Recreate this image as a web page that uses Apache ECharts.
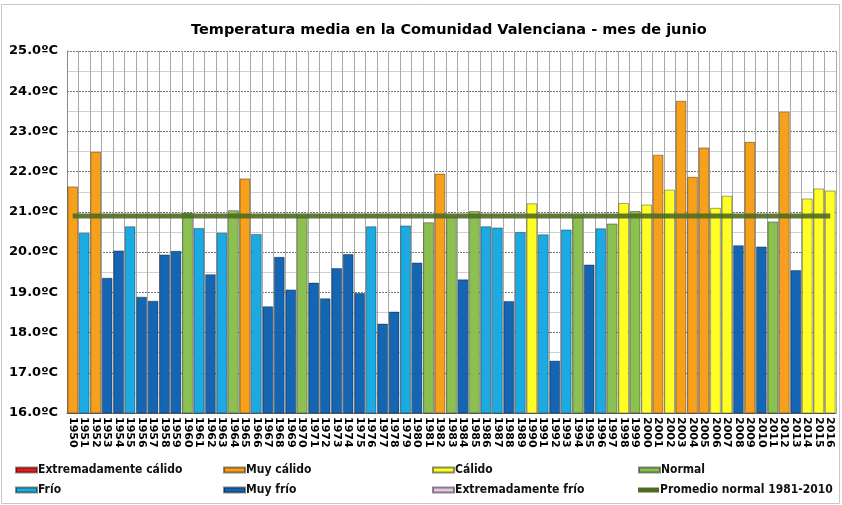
<!DOCTYPE html>
<html>
<head>
<meta charset="utf-8">
<script src="https://cdn.jsdelivr.net/npm/echarts@6/dist/echarts.min.js"></script>
<style>
html,body{margin:0;padding:0;background:#fff;}
#chart{width:842px;height:505px;}
</style>
</head>
<body>
<div id="chart"></div>
<script>
const years = [];
for (let y = 1950; y <= 2016; y++) years.push(String(y));

const temps = [
  21.63, 20.48, 22.49, 19.36, 20.04, 20.64, 18.89, 18.79, 19.94, 20.03,
  20.98, 20.60, 19.45, 20.48, 21.04, 21.83, 20.45, 18.65, 19.88, 19.07,
  20.88, 19.24, 18.85, 19.60, 19.95, 18.98, 20.64, 18.22, 18.52, 20.66,
  19.74, 20.74, 21.95, 20.88, 19.32, 21.02, 20.64, 20.61, 18.78, 20.50,
  21.21, 20.44, 17.30, 20.56, 20.88, 19.69, 20.59, 20.71, 21.22, 21.02,
  21.18, 22.42, 21.55, 23.76, 21.87, 22.60, 21.10, 21.40, 20.17, 22.74,
  20.14, 20.76, 23.49, 19.55, 21.33, 21.58, 21.53
];

const clases = [
  'MC','F','MC','MF','MF','F','MF','MF','MF','MF',
  'N','F','MF','F','N','MC','F','MF','MF','MF',
  'N','MF','MF','MF','MF','MF','F','MF','MF','F',
  'MF','N','MC','N','MF','N','F','F','MF','F',
  'C','F','MF','F','N','MF','F','N','C','N',
  'C','MC','C','MC','MC','MC','C','C','MF','MC',
  'MF','N','MC','MF','C','C','C'
];

const promedioNormal = 20.9;

const claseCodes = ['EC','MC','C','N','F','MF','EF'];
const claseNames = ['Extremadamente cálido','Muy cálido','Cálido','Normal','Frío','Muy frío','Extremadamente frío'];
const claseColors = ['#E31B1B','#F7A01B','#FFFF26','#8CC152','#1BAAE2','#1565B5','#E8C6E8'];
const lineName = 'Promedio normal 1981-2010';
const yTicks = [16,17,18,19,20,21,22,23,24,25];

const barSeries = claseCodes.map((code, i) => ({
  name: claseNames[i],
  type: 'bar',
  stack: 'all',
  barCategoryGap: '8%',
  itemStyle: { color: claseColors[i], borderColor: 'rgba(0,0,0,0.45)', borderWidth: 0.8 },
  data: temps.map((v, k) => clases[k] === code ? v : '-'),
  z: 2
}));

const lineSeries = {
  name: lineName,
  type: 'line',
  data: years.map(() => promedioNormal),
  symbol: 'none',
  lineStyle: { color: '#4f6a24', width: 5, opacity: 0.9 },
  itemStyle: { color: '#4f6a24' },
  z: 5
};

const legendPos = [
  [15, 464], [223, 464], [432, 464], [638, 464],
  [15, 484], [223, 484], [432, 484], [638, 484]
];
const legendItems = claseNames.slice(0,4).concat([claseNames[4], claseNames[5], claseNames[6], lineName]);
const legends = legendItems.map((name, i) => ({
  data: [name],
  left: legendPos[i][0],
  top: legendPos[i][1],
  padding: 0,
  icon: 'rect',
  itemWidth: 21,
  itemHeight: 5,
  itemGap: 4,
  textStyle: { fontFamily: 'DejaVu Sans Condensed, DejaVu Sans', fontSize: 12, fontWeight: 'bold', color: '#111', padding: [0,0,0,-4] },
  selectedMode: false
}));

const chart = echarts.init(document.getElementById('chart'), null, { renderer: 'canvas' });
chart.setOption({
  animation: false,
  backgroundColor: '#fff',
  title: {
    text: 'Temperatura media en la Comunidad Valenciana - mes de junio',
    left: 186,
    top: 18,
    textStyle: { fontFamily: 'DejaVu Sans', fontSize: 14.5, fontWeight: 'bold', color: '#000' }
  },
  legend: legends,
  graphic: [{
    type: 'rect',
    shape: { x: 1.5, y: 4.5, width: 838, height: 499 },
    style: { fill: 'none', stroke: '#c8c8c8', lineWidth: 1 },
    silent: true
  }],
  grid: { left: 67, right: 6, top: 51, bottom: 92 },
  xAxis: {
    type: 'category',
    data: years,
    boundaryGap: true,
    axisLine: { show: true, lineStyle: { color: '#666' } },
    axisTick: { show: false },
    splitLine: { show: true, interval: 0, lineStyle: { color: '#a8a8a8', width: 1 } },
    axisLabel: {
      interval: 0,
      rotate: -90,
      margin: 4,
      fontFamily: 'DejaVu Sans',
      fontSize: 11,
      fontWeight: 'bold',
      color: '#000'
    }
  },
  yAxis: {
    type: 'value',
    min: yTicks[0],
    max: yTicks[yTicks.length - 1],
    interval: 1,
    axisLine: { show: true, lineStyle: { color: '#888' } },
    axisTick: { show: false },
    axisLabel: {
      margin: 9,
      fontFamily: 'DejaVu Sans',
      fontSize: 13,
      fontWeight: 'bold',
      color: '#000',
      formatter: v => v.toFixed(1) + 'ºC'
    },
    splitLine: { show: true, lineStyle: { color: '#777', type: [2, 1], width: 1 } },
    minorTick: { show: false, splitNumber: 2 },
    minorSplitLine: { show: true, lineStyle: { color: '#d0d0d0', width: 1 } }
  },
  series: barSeries.concat([lineSeries])
});
</script>
</body>
</html>
